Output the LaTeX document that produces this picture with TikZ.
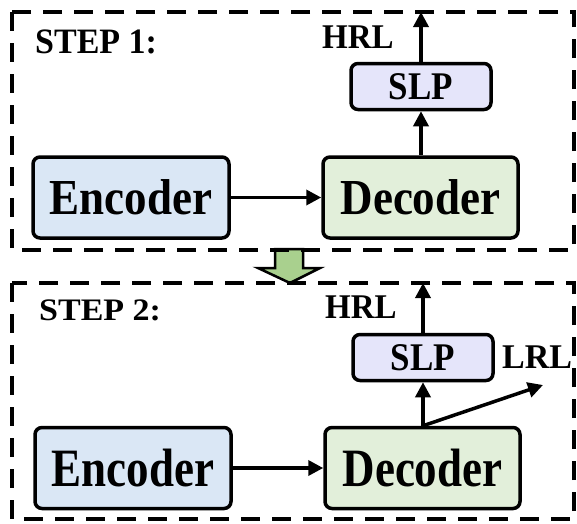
\documentclass[tikz,border=0pt]{standalone}
\usepackage{fontspec}
\setmainfont{Liberation Serif}
\usetikzlibrary{arrows.meta}
\definecolor{encfill}{HTML}{DAE7F5}
\definecolor{decfill}{HTML}{E2EFDA}
\definecolor{slpfill}{HTML}{E5E5FA}
\definecolor{stepfill}{HTML}{A9D08E}
\newcommand{\tallA}[1]{\scalebox{1}[1.12]{#1}}
\newcommand{\tallB}[1]{\scalebox{1}[1.2]{#1}}
\tikzset{
  x=1pt, y=-1pt,
  block/.style={draw, line width=3.5pt, rounded corners=7pt, inner sep=0pt,
    font=\fontsize{45}{50}\selectfont\bfseries},
  encbox/.style={block, fill=encfill, minimum width=196pt, minimum height=81pt},
  decbox/.style={block, fill=decfill, minimum width=195pt, minimum height=81pt},
  slpbox/.style={block, fill=slpfill, minimum width=140pt, minimum height=46pt,
    font=\fontsize{35}{40}\selectfont\bfseries},
  lbl/.style={inner sep=0pt, font=\fontsize{33}{38}\selectfont\bfseries},
  steplbl/.style={inner sep=0pt, font=\fontsize{34}{38}\selectfont\bfseries},
  arr/.style={line width=3.5pt, -{Triangle[length=15pt,width=15pt]}},
  frame/.style={line width=4pt, dash pattern=on 19pt off 12pt},
}
\begin{document}
\begin{tikzpicture}
\useasboundingbox (0,0) rectangle (577,523);

% hand-over arrow from step 1 to step 2
\draw[line width=2.5pt, fill=stepfill, line join=miter]
  (275,249) -- (303,249) -- (303,268) -- (320,268) -- (290,283)
  -- (258,268) -- (275,268) -- cycle;

% ---- step 1 ----
\draw[frame] (12,12) rectangle (574,250);
\node[steplbl, anchor=base west] (st1) at (35,53) {\scalebox{1}[1.05]{STEP 1:}};
\node[encbox] (enc1) at (131,197.5) {\tallA{Encoder}};
\node[decbox] (dec1) at (420.5,197.5) {\tallA{Decoder}};
\node[slpbox] (slp1) at (421,86.5) {\tallA{SLP}};
\coordinate (out1) at (421,12);
\node[lbl, anchor=base west] (hrl1) at (322,48) {\scalebox{1}[1.05]{HRL}};
\draw[arr] (enc1.east) -- (dec1.west);
\draw[arr] (dec1.north -| slp1.south) -- (slp1.south);
\draw[arr] (slp1.north) -- (out1);

% ---- step 2 ----
\draw[frame] (12,283) rectangle (574,519);
\node[steplbl, anchor=base west] (st2) at (39,320) {\scalebox{1}[0.92]{STEP 2:}};
\node[encbox] (enc2) at (133,468) {\tallB{Encoder}};
\node[decbox] (dec2) at (422.5,468) {\tallB{Decoder}};
\node[slpbox] (slp2) at (423,357.5) {\tallA{SLP}};
\coordinate (out2) at (423,283);
\coordinate (lrlend) at (543,385);
\node[lbl, anchor=base west] (hrl2) at (325,318) {\scalebox{1}[1.05]{HRL}};
\node[lbl, anchor=base west] (lrl2) at (502,368) {\scalebox{1.03}[1.05]{LRL}};
\draw[arr] (enc2.east) -- (dec2.west);
\draw[arr] (dec2.north -| slp2.south) -- (slp2.south);
\draw[arr] (slp2.north) -- (out2);
\draw[arr] (dec2.north -| slp2.south) -- (lrlend);
\end{tikzpicture}
\end{document}
